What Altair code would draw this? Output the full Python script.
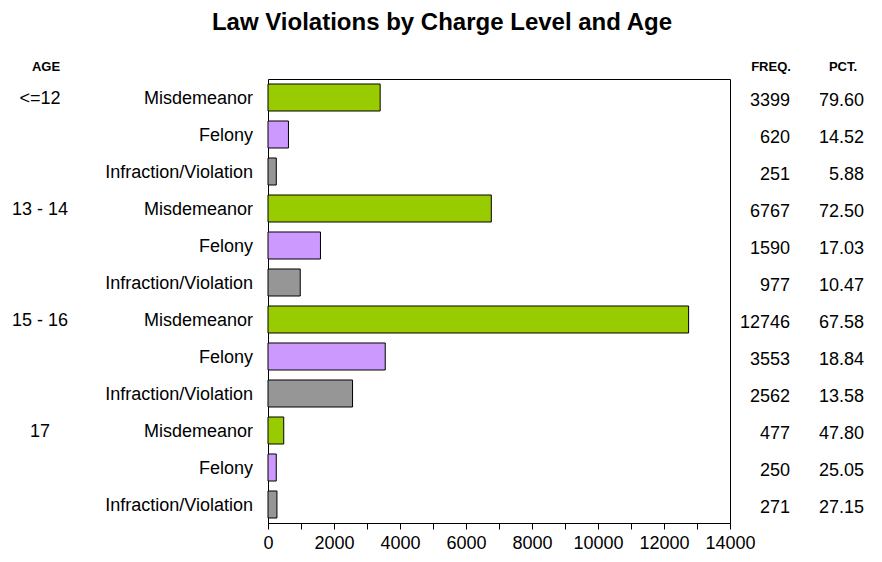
import altair as alt
import pandas as pd

# ---- data ----
ages = ["<=12", "13 - 14", "15 - 16", "17"]
charges = ["Misdemeanor", "Felony", "Infraction/Violation"]
freq = [3399, 620, 251, 6767, 1590, 977, 12746, 3553, 2562, 477, 250, 271]
pct = ["79.60", "14.52", "5.88", "72.50", "17.03", "10.47",
       "67.58", "18.84", "13.58", "47.80", "25.05", "27.15"]
headers = ["AGE", "FREQ.", "PCT."]
title_text = "Law Violations by Charge Level and Age"
colors = ["#99CC00", "#CC99FF", "#969696"]

rows = []
i = 0
for a in ages:
    for c in charges:
        rows.append({"row": f"r{i:02d}", "age": a, "charge": c,
                     "freq": freq[i], "pct": pct[i],
                     "agelabel": a if c == charges[0] else ""})
        i += 1
df = pd.DataFrame(rows)
order = list(df["row"])

FONT = "Liberation Sans"

base = alt.Chart(df)

y_enc = alt.Y("row:N", sort=order,
              scale=alt.Scale(paddingInner=0.27, paddingOuter=0.135),
              axis=None)

bars = base.mark_bar(stroke="black", strokeWidth=1).encode(
    y=y_enc,
    x=alt.X("freq:Q",
            scale=alt.Scale(domain=[0, 14000], nice=False),
            axis=alt.Axis(values=list(range(0, 14001, 1000)),
                          labelExpr="datum.value % 2000 == 0 ? datum.label : ''",
                          format="d", grid=False, title=None,
                          domainColor="black", tickColor="black",
                          tickSize=6, labelPadding=5,
                          labelFont=FONT, labelFontSize=18,
                          labelColor="black", labelFlush=False)),
    color=alt.Color("charge:N", scale=alt.Scale(domain=charges, range=colors),
                    legend=None),
)

charge_txt = base.mark_text(align="right", baseline="middle", font=FONT,
                            fontSize=18, color="black", dy=1).encode(
    y=y_enc, x=alt.value(-15), text="charge:N")

age_txt = base.mark_text(align="center", baseline="middle", font=FONT,
                         fontSize=18, color="black", dy=1).encode(
    y=y_enc, x=alt.value(-228), text="agelabel:N")

freq_txt = base.mark_text(align="right", baseline="middle", font=FONT,
                          fontSize=18, color="black", dy=3).encode(
    y=y_enc, x=alt.value(522), text="freq:Q")

pct_txt = base.mark_text(align="right", baseline="middle", font=FONT,
                         fontSize=18, color="black", dy=3).encode(
    y=y_enc, x=alt.value(596), text="pct:N")

hdr_data = pd.DataFrame({"h": headers})
def header(idx, xpos):
    return alt.Chart(hdr_data).transform_filter(
        alt.datum.h == headers[idx]
    ).mark_text(align="center", baseline="middle", font=FONT, fontSize=13,
                fontWeight="bold", color="black").encode(
        x=alt.value(xpos), y=alt.value(-12), text="h:N")

chart = alt.layer(
    bars, charge_txt, age_txt, freq_txt, pct_txt,
    header(0, -222), header(1, 503), header(2, 575),
).properties(
    width=462, height=444,
    title=alt.Title(title_text, font=FONT, fontSize=24, fontWeight="bold",
                    color="black", anchor="middle", dx=-57, offset=26),
    autosize=alt.AutoSizeParams(type="none"),
    padding={"left": 260, "top": 71, "right": 140, "bottom": 32},
).configure_view(stroke="black", strokeWidth=1)

chart.save("out.html", embed_options={"renderer": "svg", "actions": False})
